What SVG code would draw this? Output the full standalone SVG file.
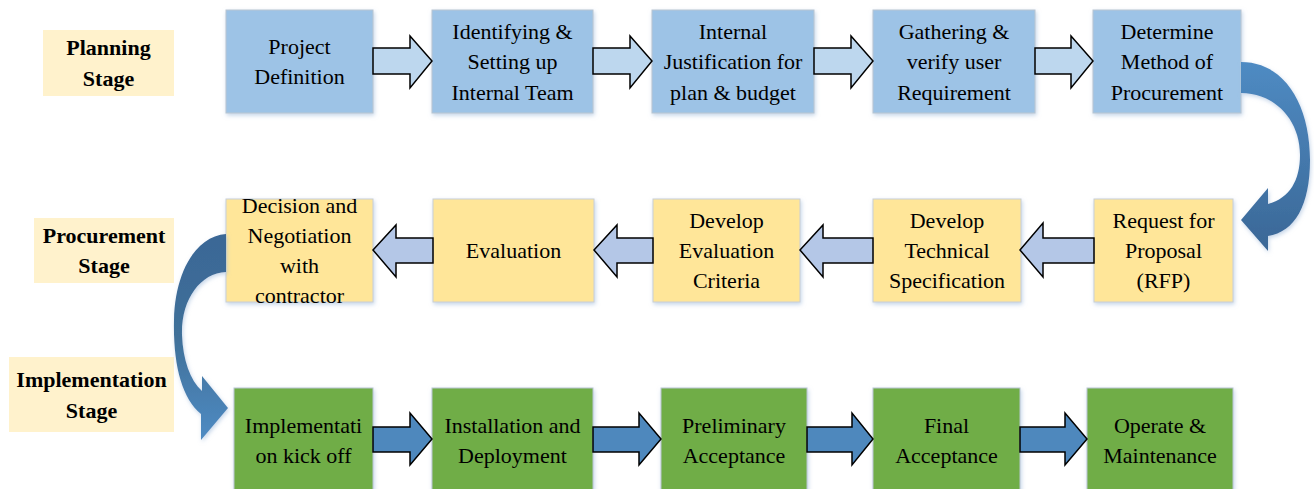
<svg xmlns="http://www.w3.org/2000/svg" width="1314" height="489" viewBox="0 0 1314 489">
<defs>
<filter id="sh" x="-10%" y="-10%" width="125%" height="130%">
<feDropShadow dx="1" dy="2" stdDeviation="2" flood-color="#9DB9DA" flood-opacity="0.6"/>
</filter>
<linearGradient id="g1" x1="0" y1="0" x2="0" y2="1">
<stop offset="0" stop-color="#4F8BC3"/>
<stop offset="1" stop-color="#3A6796"/>
</linearGradient>
<linearGradient id="g2" x1="0" y1="0" x2="0" y2="1">
<stop offset="0" stop-color="#3A6796"/>
<stop offset="0.5" stop-color="#3F7099"/>
<stop offset="1" stop-color="#4F8BC3"/>
</linearGradient>
</defs>
<style>
.b1{fill:#9DC3E6;stroke:#B9C6D2;stroke-width:1;filter:url(#sh)}
.b2{fill:#FFE699;stroke:#C9CFD6;stroke-width:1;filter:url(#sh)}
.b3{fill:#70AD47;stroke:#B9C6D2;stroke-width:1;filter:url(#sh)}
.st{fill:#FFF2CC}
.t{font-family:"Liberation Serif","Times New Roman",serif;font-size:22px;fill:#000;text-anchor:middle}
.tb{font-family:"Liberation Serif","Times New Roman",serif;font-size:22px;font-weight:bold;fill:#000;text-anchor:middle}
.a1{fill:#BDD7EE;stroke:#000;stroke-width:1.5;stroke-linejoin:miter}
.a2{fill:#B4C7E7;stroke:#000;stroke-width:1.5}
.a3{fill:#4E88BD;stroke:#000;stroke-width:1.5}
</style>

<g id="stage-planning"><rect class="st" x="43" y="30" width="131" height="66"/><text class="tb" x="108.5" y="55">Planning</text><text class="tb" x="108.5" y="86">Stage</text></g>
<g id="stage-procurement"><rect class="st" x="34" y="218" width="140" height="65"/><text class="tb" x="104" y="243">Procurement</text><text class="tb" x="104" y="273">Stage</text></g>
<g id="stage-implementation"><rect class="st" x="9" y="357" width="165" height="75"/><text class="tb" x="91.5" y="387">Implementation</text><text class="tb" x="91.5" y="418">Stage</text></g>

<g id="p1"><rect class="b1" x="226" y="10" width="147" height="103"/><text class="t" x="299.5" y="54">Project</text><text class="t" x="299.5" y="84">Definition</text></g>
<g id="p2"><rect class="b1" x="432" y="10" width="161" height="103"/><text class="t" x="512.5" y="38.5">Identifying &amp;</text><text class="t" x="512.5" y="69">Setting up</text><text class="t" x="512.5" y="99.5">Internal Team</text></g>
<g id="p3"><rect class="b1" x="652" y="10" width="162" height="103"/><text class="t" x="733" y="38.5">Internal</text><text class="t" x="733" y="69">Justification for</text><text class="t" x="733" y="99.5">plan &amp; budget</text></g>
<g id="p4"><rect class="b1" x="873" y="10" width="162" height="103"/><text class="t" x="954" y="38.5">Gathering &amp;</text><text class="t" x="954" y="69">verify user</text><text class="t" x="954" y="99.5">Requirement</text></g>
<g id="p5"><rect class="b1" x="1093" y="10" width="148" height="103"/><text class="t" x="1167" y="38.5">Determine</text><text class="t" x="1167" y="69">Method of</text><text class="t" x="1167" y="99.5">Procurement</text></g>

<g id="r1"><rect class="b2" x="226" y="199" width="147" height="103"/><text class="t" x="299.5" y="212.5">Decision and</text><text class="t" x="299.5" y="242.5">Negotiation</text><text class="t" x="299.5" y="272.5">with</text><text class="t" x="299.5" y="302.5">contractor</text></g>
<g id="r2"><rect class="b2" x="433" y="199" width="161" height="103"/><text class="t" x="513.5" y="258">Evaluation</text></g>
<g id="r3"><rect class="b2" x="653" y="199" width="147" height="103"/><text class="t" x="726.5" y="228">Develop</text><text class="t" x="726.5" y="258">Evaluation</text><text class="t" x="726.5" y="288">Criteria</text></g>
<g id="r4"><rect class="b2" x="873" y="199" width="148" height="103"/><text class="t" x="947" y="228">Develop</text><text class="t" x="947" y="258">Technical</text><text class="t" x="947" y="288">Specification</text></g>
<g id="r5"><rect class="b2" x="1094" y="199" width="139" height="103"/><text class="t" x="1163.5" y="228">Request for</text><text class="t" x="1163.5" y="258">Proposal</text><text class="t" x="1163.5" y="288">(RFP)</text></g>

<g id="i1"><rect class="b3" x="234" y="388" width="139" height="104"/><text class="t" x="303.5" y="432.5">Implementati</text><text class="t" x="303.5" y="462.5">on kick off</text></g>
<g id="i2"><rect class="b3" x="432" y="388" width="161" height="104"/><text class="t" x="512.5" y="432.5">Installation and</text><text class="t" x="512.5" y="462.5">Deployment</text></g>
<g id="i3"><rect class="b3" x="661" y="388" width="146" height="104"/><text class="t" x="734" y="432.5">Preliminary</text><text class="t" x="734" y="462.5">Acceptance</text></g>
<g id="i4"><rect class="b3" x="873" y="388" width="147" height="104"/><text class="t" x="946.5" y="432.5">Final</text><text class="t" x="946.5" y="462.5">Acceptance</text></g>
<g id="i5"><rect class="b3" x="1087" y="388" width="146" height="104"/><text class="t" x="1160" y="432.5">Operate &amp;</text><text class="t" x="1160" y="462.5">Maintenance</text></g>

<g id="connectors">
<path class="a1" d="M373,48 H410 V36 L432,61 L410,88 V74 H373 Z"/>
<path class="a1" d="M593,48 H630 V36 L652,61 L630,88 V74 H593 Z"/>
<path class="a1" d="M814,48 H851 V36 L873,61 L851,88 V74 H814 Z"/>
<path class="a1" d="M1035,48 H1071 V36 L1093,61 L1071,88 V74 H1035 Z"/>

<path class="a2" d="M433,238 H396 V225 L373,250 L396,277 V263 H433 Z"/>
<path class="a2" d="M653,238 H617 V225 L594,250 L617,277 V263 H653 Z"/>
<path class="a2" d="M873,238 H823 V225 L800,250 L823,277 V263 H873 Z"/>
<path class="a2" d="M1094,238 H1043 V223 L1020,250 L1043,277 V263 H1094 Z"/>

<path class="a3" d="M373,427 H410 V413 L432,439 L410,465 V452 H373 Z"/>
<path class="a3" d="M593,427 H639 V413 L661,439 L639,465 V452 H593 Z"/>
<path class="a3" d="M807,427 H852 V413 L873,439 L852,465 V452 H807 Z"/>
<path class="a3" d="M1020,427 H1065 V413 L1087,439 L1065,465 V452 H1020 Z"/>

<path fill="url(#g1)" filter="url(#sh)" d="M1241,62 C1285,62 1310,105 1310,160 C1310,205 1295,232 1268,236 L1268,251 L1241,220 L1268,188 L1268,204 C1290,198 1300,180 1300,155 C1300,120 1275,93 1241,93 Z"/>
<path fill="url(#g2)" filter="url(#sh)" d="M226,234 C196,236 175,272 174,320 C173,365 182,398 201,414 L201,440 L228,408 L202,376 L202,391 C190,380 183,360 182,335 C181,300 200,273 226,272 Z"/>
</g>
</svg>
